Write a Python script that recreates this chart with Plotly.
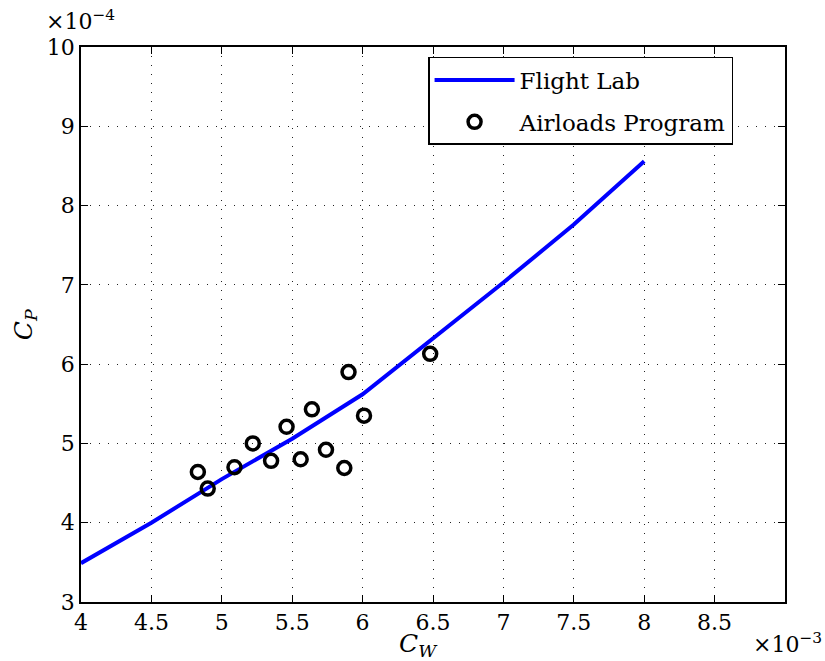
import plotly.graph_objects as go

# Flight Lab prediction: thrust coefficient C_W vs power coefficient C_P
flight_cw = [4.0e-3, 4.5e-3, 5.0e-3, 5.5e-3, 6.0e-3, 6.5e-3, 7.0e-3, 7.5e-3, 8.0e-3]
flight_cp = [3.49e-4, 4.00e-4, 4.55e-4, 5.06e-4, 5.62e-4, 6.32e-4, 7.03e-4, 7.76e-4, 8.56e-4]

# Airloads Program results
airloads_cw = [4.83e-3, 4.90e-3, 5.09e-3, 5.22e-3, 5.35e-3, 5.46e-3, 5.56e-3,
               5.64e-3, 5.74e-3, 5.87e-3, 5.90e-3, 6.01e-3, 6.48e-3]
airloads_cp = [4.64e-4, 4.43e-4, 4.70e-4, 5.00e-4, 4.78e-4, 5.21e-4, 4.80e-4,
               5.43e-4, 4.92e-4, 4.69e-4, 5.90e-4, 5.35e-4, 6.13e-4]

x_ticks = [4, 4.5, 5, 5.5, 6, 6.5, 7, 7.5, 8, 8.5]
y_ticks = [3, 4, 5, 6, 7, 8, 9, 10]

X_SCALE = 1e3   # axis shows C_W x 10^-3
Y_SCALE = 1e4   # axis shows C_P x 10^-4

FONT = "DejaVu Serif, Liberation Serif, serif"

fig = go.Figure()
fig.add_trace(go.Scatter(
    x=[v * X_SCALE for v in flight_cw],
    y=[v * Y_SCALE for v in flight_cp],
    mode="lines",
    name="Flight Lab",
    legendgroup="a",
    line=dict(color="#0000ff", width=4),
))
fig.add_trace(go.Scatter(
    x=[v * X_SCALE for v in airloads_cw],
    y=[v * Y_SCALE for v in airloads_cp],
    mode="markers",
    name="Airloads Program",
    legendgroup="b",
    marker=dict(symbol="circle-open", size=13, color="black",
                line=dict(color="black", width=3.5)),
))

axis_common = dict(
    showline=True, linecolor="black", linewidth=1.5, mirror="allticks",
    ticks="inside", ticklen=7, tickwidth=1, tickcolor="black",
    showgrid=True, gridcolor="#222222", gridwidth=1, griddash="1px,8px",
    zeroline=False,
    tickfont=dict(family=FONT, size=22, color="black"),
)

fig.update_xaxes(range=[4, 9], tickvals=x_ticks,
                 ticktext=[f"{t:g}" for t in x_ticks], **axis_common)
fig.update_yaxes(range=[3, 10], tickvals=y_ticks,
                 ticktext=[f"{t:g}" for t in y_ticks], **axis_common)

fig.update_layout(
    width=825, height=661,
    margin=dict(l=81, r=40, t=47, b=59),
    paper_bgcolor="white", plot_bgcolor="white",
    font=dict(family=FONT, size=22, color="black"),
    showlegend=True,
    legend=dict(
        x=0.493, y=0.982, xanchor="left", yanchor="top",
        bgcolor="white", bordercolor="black", borderwidth=1.5,
        font=dict(family=FONT, size=23, color="black"),
        itemwidth=80, tracegroupgap=9,
    ),
    annotations=[
        dict(text="<i>C</i><sub><i>W</i></sub>", x=0.48, y=-0.045,
             xref="paper", yref="paper", xanchor="center", yanchor="top",
             showarrow=False, font=dict(family=FONT, size=25)),
        dict(text="<i>C</i><sub><i>P</i></sub>", x=-0.08, y=0.5,
             xref="paper", yref="paper", xanchor="center", yanchor="middle",
             textangle=-90, showarrow=False, font=dict(family=FONT, size=25)),
        dict(text="×10<sup>−4</sup>", x=-0.053, y=1.02,
             xref="paper", yref="paper", xanchor="left", yanchor="bottom",
             showarrow=False, font=dict(family=FONT, size=22)),
        dict(text="×10<sup>−3</sup>", x=1.055, y=-0.045,
             xref="paper", yref="paper", xanchor="right", yanchor="top",
             showarrow=False, font=dict(family=FONT, size=22)),
    ],
)

fig.write_html("out.html")
